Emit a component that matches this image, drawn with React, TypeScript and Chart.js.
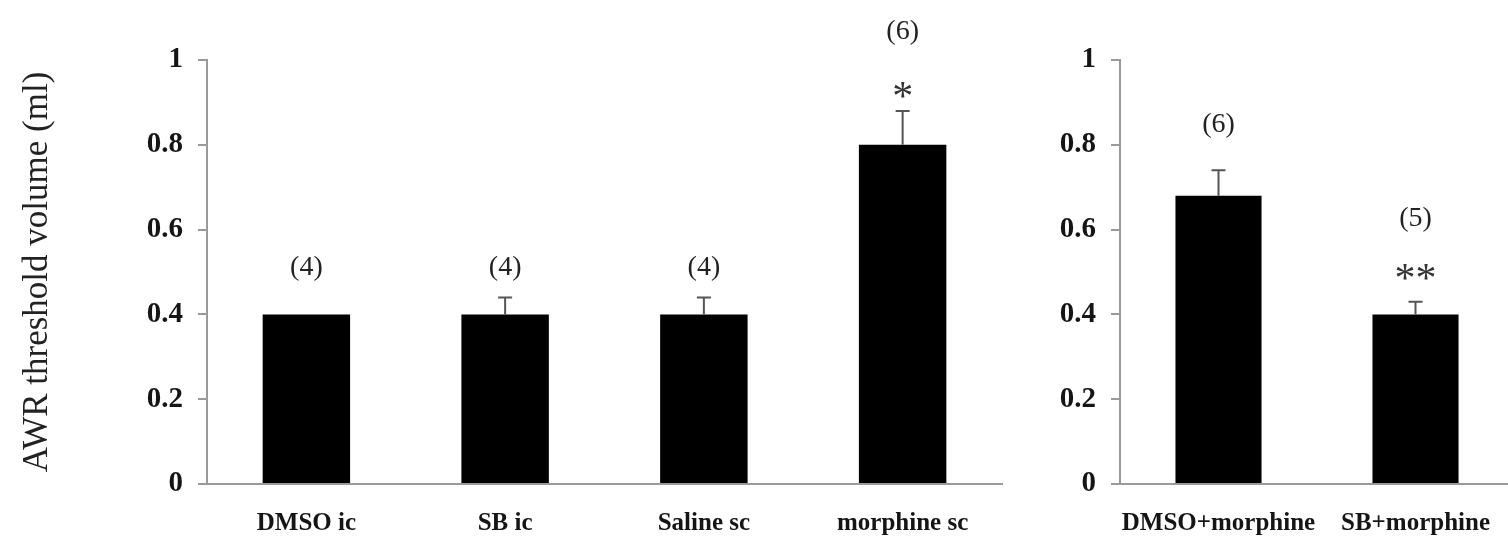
import React, { useEffect, useRef } from 'react';
import { Chart, registerables } from 'chart.js';

Chart.register(...registerables);

// ---------- data ----------
const leftCategories = ['DMSO ic', 'SB ic', 'Saline sc', 'morphine sc'];
const leftMeans = [0.40, 0.40, 0.40, 0.80];
const leftErrors = [0, 0.04, 0.04, 0.08];
const leftCounts = ['(4)', '(4)', '(4)', '(6)'];
const leftStars = ['', '', '', '*'];

const rightCategories = ['DMSO+morphine', 'SB+morphine'];
const rightMeans = [0.68, 0.40];
const rightErrors = [0.06, 0.03];
const rightCounts = ['(6)', '(5)'];
const rightStars = ['', '**'];

const yTickLabels = ['0', '0.2', '0.4', '0.6', '0.8', '1'];
const yTitle = 'AWR threshold volume (ml)';

// ---------- styling ----------
const FONT = '"Liberation Serif", "Times New Roman", serif';
const AXIS = '#9a9a9a';
const TEXT = '#151515';

const annotPlugin = {
  id: 'annot',
  afterDatasetsDraw(chart: any, _args: any, opts: any) {
    const { ctx } = chart;
    const y = chart.scales.y;
    const meta = chart.getDatasetMeta(0);
    ctx.save();
    opts.means.forEach((m: number, i: number) => {
      const cx = meta.data[i].x;
      const e = opts.errors[i];
      if (e > 0) {
        const y0 = y.getPixelForValue(m);
        const y1 = y.getPixelForValue(m + e);
        ctx.strokeStyle = '#555';
        ctx.lineWidth = 2;
        ctx.beginPath();
        ctx.moveTo(cx, y0);
        ctx.lineTo(cx, y1);
        ctx.moveTo(cx - 7, y1);
        ctx.lineTo(cx + 7, y1);
        ctx.stroke();
      }
      ctx.fillStyle = '#222';
      ctx.textAlign = 'center';
      ctx.textBaseline = 'middle';
      ctx.font = `28px ${FONT}`;
      ctx.fillText(opts.counts[i], cx, y.getPixelForValue(opts.countY[i]));
      if (opts.stars[i]) {
        ctx.font = `42px ${FONT}`;
        ctx.fillStyle = '#333';
        ctx.textBaseline = 'alphabetic';
        ctx.fillText(opts.stars[i], cx, y.getPixelForValue(opts.starY[i]) + 20);
      }
    });
    ctx.restore();
  },
};

function makeConfig(
  labels: string[],
  means: number[],
  errors: number[],
  counts: string[],
  stars: string[],
  countY: number[],
  starY: number[],
  yWidth: number,
  padRight: number,
  showTitle: boolean,
  barPct: number
): any {
  return {
    type: 'bar',
    data: {
      labels,
      datasets: [
        {
          data: means,
          backgroundColor: '#000',
          borderWidth: 0,
          categoryPercentage: 1,
          barPercentage: barPct,
        },
      ],
    },
    options: {
      responsive: false,
      maintainAspectRatio: false,
      animation: false,
      layout: { padding: { top: 60, right: padRight, bottom: 0, left: 0 } },
      plugins: {
        legend: { display: false },
        tooltip: { enabled: false },
        annot: { means, errors, counts, stars, countY, starY },
      },
      scales: {
        x: {
          grid: { display: false },
          border: { display: true, color: AXIS, width: 2 },
          ticks: {
            color: TEXT,
            font: { family: FONT, size: 25, weight: 'bold' },
            padding: 17,
            maxRotation: 0,
            autoSkip: false,
          },
          afterFit: (s: any) => {
            s.height = 53;
          },
        },
        y: {
          min: 0,
          max: 1,
          ticks: {
            stepSize: 0.2,
            color: TEXT,
            font: { family: FONT, size: 29, weight: 'bold' },
            padding: 15,
            callback: (_v: any, i: number) => yTickLabels[i],
          },
          grid: {
            drawOnChartArea: false,
            drawTicks: true,
            tickLength: 9,
            color: AXIS,
            lineWidth: 2,
          },
          border: { display: true, color: AXIS, width: 2 },
          title: {
            display: showTitle,
            text: yTitle,
            color: '#222',
            font: { family: FONT, size: 35, weight: 'normal' },
            padding: { top: 17, bottom: 0 },
          },
          afterFit: (s: any) => {
            s.width = yWidth;
          },
        },
      },
    },
    plugins: [annotPlugin],
  };
}

function BarPanel(props: { config: any; left: number; width: number }) {
  const ref = useRef<HTMLCanvasElement>(null);
  useEffect(() => {
    if (!ref.current) return;
    const chart = new Chart(ref.current, props.config);
    return () => chart.destroy();
  }, []);
  return (
    <canvas
      ref={ref}
      width={props.width}
      height={537}
      style={{ position: 'absolute', left: props.left, top: 0, width: props.width, height: 537, display: 'block' }}
    />
  );
}

export default function App() {
  const leftConfig = makeConfig(
    leftCategories,
    leftMeans,
    leftErrors,
    leftCounts,
    leftStars,
    [0.51, 0.51, 0.51, 1.066],
    [0, 0, 0, 0.93],
    207,
    28,
    true,
    0.44
  );
  const rightConfig = makeConfig(
    rightCategories,
    rightMeans,
    rightErrors,
    rightCounts,
    rightStars,
    [0.847, 0.627],
    [0, 0.5],
    90,
    6,
    false,
    0.437
  );
  return (
    <div
      style={{
        position: 'fixed',
        left: 0,
        top: 0,
        width: 1508,
        height: 537,
        overflow: 'hidden',
        background: '#fff',
      }}
    >
      <BarPanel config={leftConfig} left={0} width={1030} />
      <BarPanel config={rightConfig} left={1030} width={490} />
    </div>
  );
}
